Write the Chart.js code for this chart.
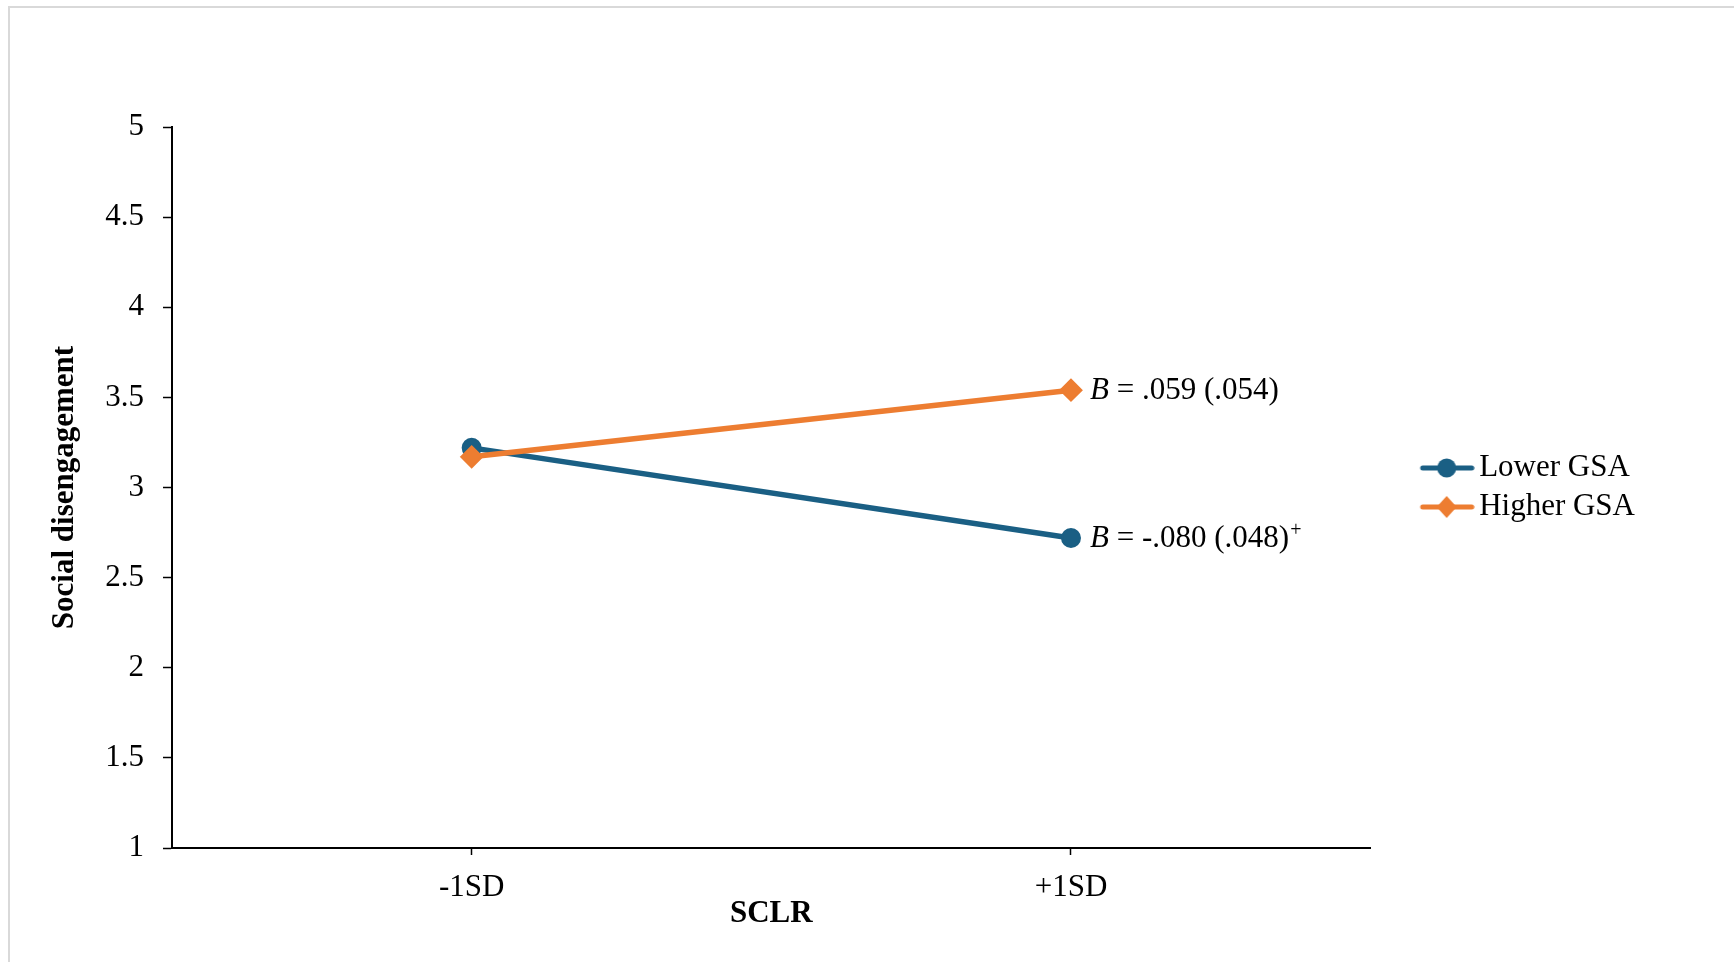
<!DOCTYPE html>
<html>
<head>
<meta charset="utf-8">
<title>Social disengagement by SCLR</title>
<script src="https://cdn.jsdelivr.net/npm/chart.js@4.4.1/dist/chart.umd.min.js"></script>
<style>
    html, body { margin: 0; padding: 0; background: #fff; overflow: hidden; }
    #frame {
        position: absolute; left: 8px; top: 6px; width: 1800px; height: 1000px;
        border-left: 2px solid #d9d9d9; border-top: 2px solid #d9d9d9;
    }
    #wrap { position: absolute; left: 0; top: 0; width: 1734px; height: 962px; }
</style>
</head>
<body>
<div id="frame"></div>
<div id="wrap"><canvas id="slopeChart"></canvas></div>
<script>
    // datos
    const categorias = ['-1SD', '+1SD'];
    const series = ['Lower GSA', 'Higher GSA'];
    const lowerGSA = [3.22, 2.72];
    const higherGSA = [3.17, 3.54];
    const coefLower = ['= -.080 (.048)', '+'];
    const coefHigher = ['= .059 (.054)', ''];
    const yTicks = [1, 1.5, 2, 2.5, 3, 3.5, 4, 4.5, 5];
    const yTickLabels = ['1', '1.5', '2', '2.5', '3', '3.5', '4', '4.5', '5'];

    const AZUL = '#1a5f84';
    const NARANJA = '#ed7d31';
    const FUENTE = '"Liberation Serif", "Times New Roman", serif';

    // simbolo de leyenda: linea con marcador
    function simboloLeyenda(color, forma) {
        const c = document.createElement('canvas');
        c.width = 107;
        c.height = 26;
        const g = c.getContext('2d');
        g.strokeStyle = color;
        g.fillStyle = color;
        g.lineWidth = 5;
        g.lineCap = 'round';
        g.beginPath();
        g.moveTo(55, 13);
        g.lineTo(104, 13);
        g.stroke();
        g.beginPath();
        if (forma === 'circle') {
            g.arc(79, 13, 9.5, 0, Math.PI * 2);
        } else {
            g.moveTo(79, 2);
            g.lineTo(89, 13);
            g.lineTo(79, 24);
            g.lineTo(69, 13);
            g.closePath();
        }
        g.fill();
        return c;
    }

    const etiquetasPendiente = {
        id: 'etiquetasPendiente',
        afterDatasetsDraw(chart) {
            const ctx = chart.ctx;
            const textos = [coefLower, coefHigher];
            ctx.save();
            ctx.fillStyle = '#000';
            ctx.textBaseline = 'middle';
            ctx.textAlign = 'left';
            chart.data.datasets.forEach((ds, i) => {
                const meta = chart.getDatasetMeta(i);
                const pt = meta.data[meta.data.length - 1];
                let x = pt.x + 19;
                const y = pt.y + 1;
                ctx.font = 'italic 31px ' + FUENTE;
                ctx.fillText('B', x, y);
                x += ctx.measureText('B ').width;
                ctx.font = '31px ' + FUENTE;
                ctx.fillText(textos[i][0], x, y);
                x += ctx.measureText(textos[i][0]).width + 1;
                if (textos[i][1]) {
                    ctx.font = '20px ' + FUENTE;
                    ctx.fillText(textos[i][1], x, y - 8);
                }
            });
            ctx.restore();
        }
    };

    const ctx = document.getElementById('slopeChart').getContext('2d');
    new Chart(ctx, {
        type: 'line',
        data: {
            labels: categorias,
            datasets: [
                {
                    label: series[0],
                    data: lowerGSA,
                    borderColor: AZUL,
                    backgroundColor: AZUL,
                    borderWidth: 5.5,
                    pointStyle: 'circle',
                    pointRadius: 9,
                    pointBorderWidth: 2,
                    tension: 0,
                    order: 2
                },
                {
                    label: series[1],
                    data: higherGSA,
                    borderColor: NARANJA,
                    backgroundColor: NARANJA,
                    borderWidth: 5.5,
                    pointStyle: 'rectRot',
                    pointRadius: 10.5,
                    pointBorderWidth: 2,
                    tension: 0,
                    order: 1
                }
            ]
        },
        options: {
            responsive: true,
            maintainAspectRatio: false,
            animation: false,
            layout: {
                padding: { left: 20, top: 127, right: 89, bottom: 0 }
            },
            plugins: {
                tooltip: { enabled: false },
                legend: {
                    position: 'right',
                    fullSize: false,
                    labels: {
                        usePointStyle: true,
                        pointStyleWidth: 85,
                        padding: 8,
                        color: '#000',
                        font: { family: FUENTE, size: 31 },
                        generateLabels(chart) {
                            return chart.data.datasets.map((ds, i) => ({
                                text: ds.label,
                                pointStyle: simboloLeyenda(ds.borderColor, ds.pointStyle),
                                fillStyle: ds.borderColor,
                                strokeStyle: ds.borderColor,
                                lineWidth: 0,
                                hidden: false,
                                datasetIndex: i
                            }));
                        }
                    }
                }
            },
            scales: {
                x: {
                    offset: true,
                    afterFit(scale) { scale.height = 114; },
                    grid: {
                        offset: false,
                        drawOnChartArea: false,
                        tickLength: 7,
                        tickColor: '#000',
                        tickWidth: 1.5
                    },
                    border: { color: '#000', width: 2 },
                    ticks: {
                        color: '#000',
                        padding: 14,
                        font: { family: FUENTE, size: 31 }
                    },
                    title: {
                        display: true,
                        text: 'SCLR',
                        color: '#000',
                        padding: { top: 0, bottom: 29 },
                        font: { family: FUENTE, size: 31, weight: 'bold' }
                    }
                },
                y: {
                    min: 1,
                    max: 5,
                    afterFit(scale) { scale.width = 152; },
                    afterBuildTicks(scale) {
                        scale.ticks = yTicks.map(v => ({ value: v }));
                    },
                    grid: {
                        drawOnChartArea: false,
                        tickLength: 9,
                        tickColor: '#000',
                        tickWidth: 1.5
                    },
                    border: { color: '#000', width: 2 },
                    ticks: {
                        color: '#000',
                        padding: 19,
                        font: { family: FUENTE, size: 31 },
                        callback: (value, index) => yTickLabels[index]
                    },
                    title: {
                        display: true,
                        text: 'Social disengagement',
                        color: '#000',
                        padding: { top: 26, bottom: 20 },
                        font: { family: FUENTE, size: 31, weight: 'bold' }
                    }
                }
            }
        },
        plugins: [etiquetasPendiente]
    });
</script>
</body>
</html>
